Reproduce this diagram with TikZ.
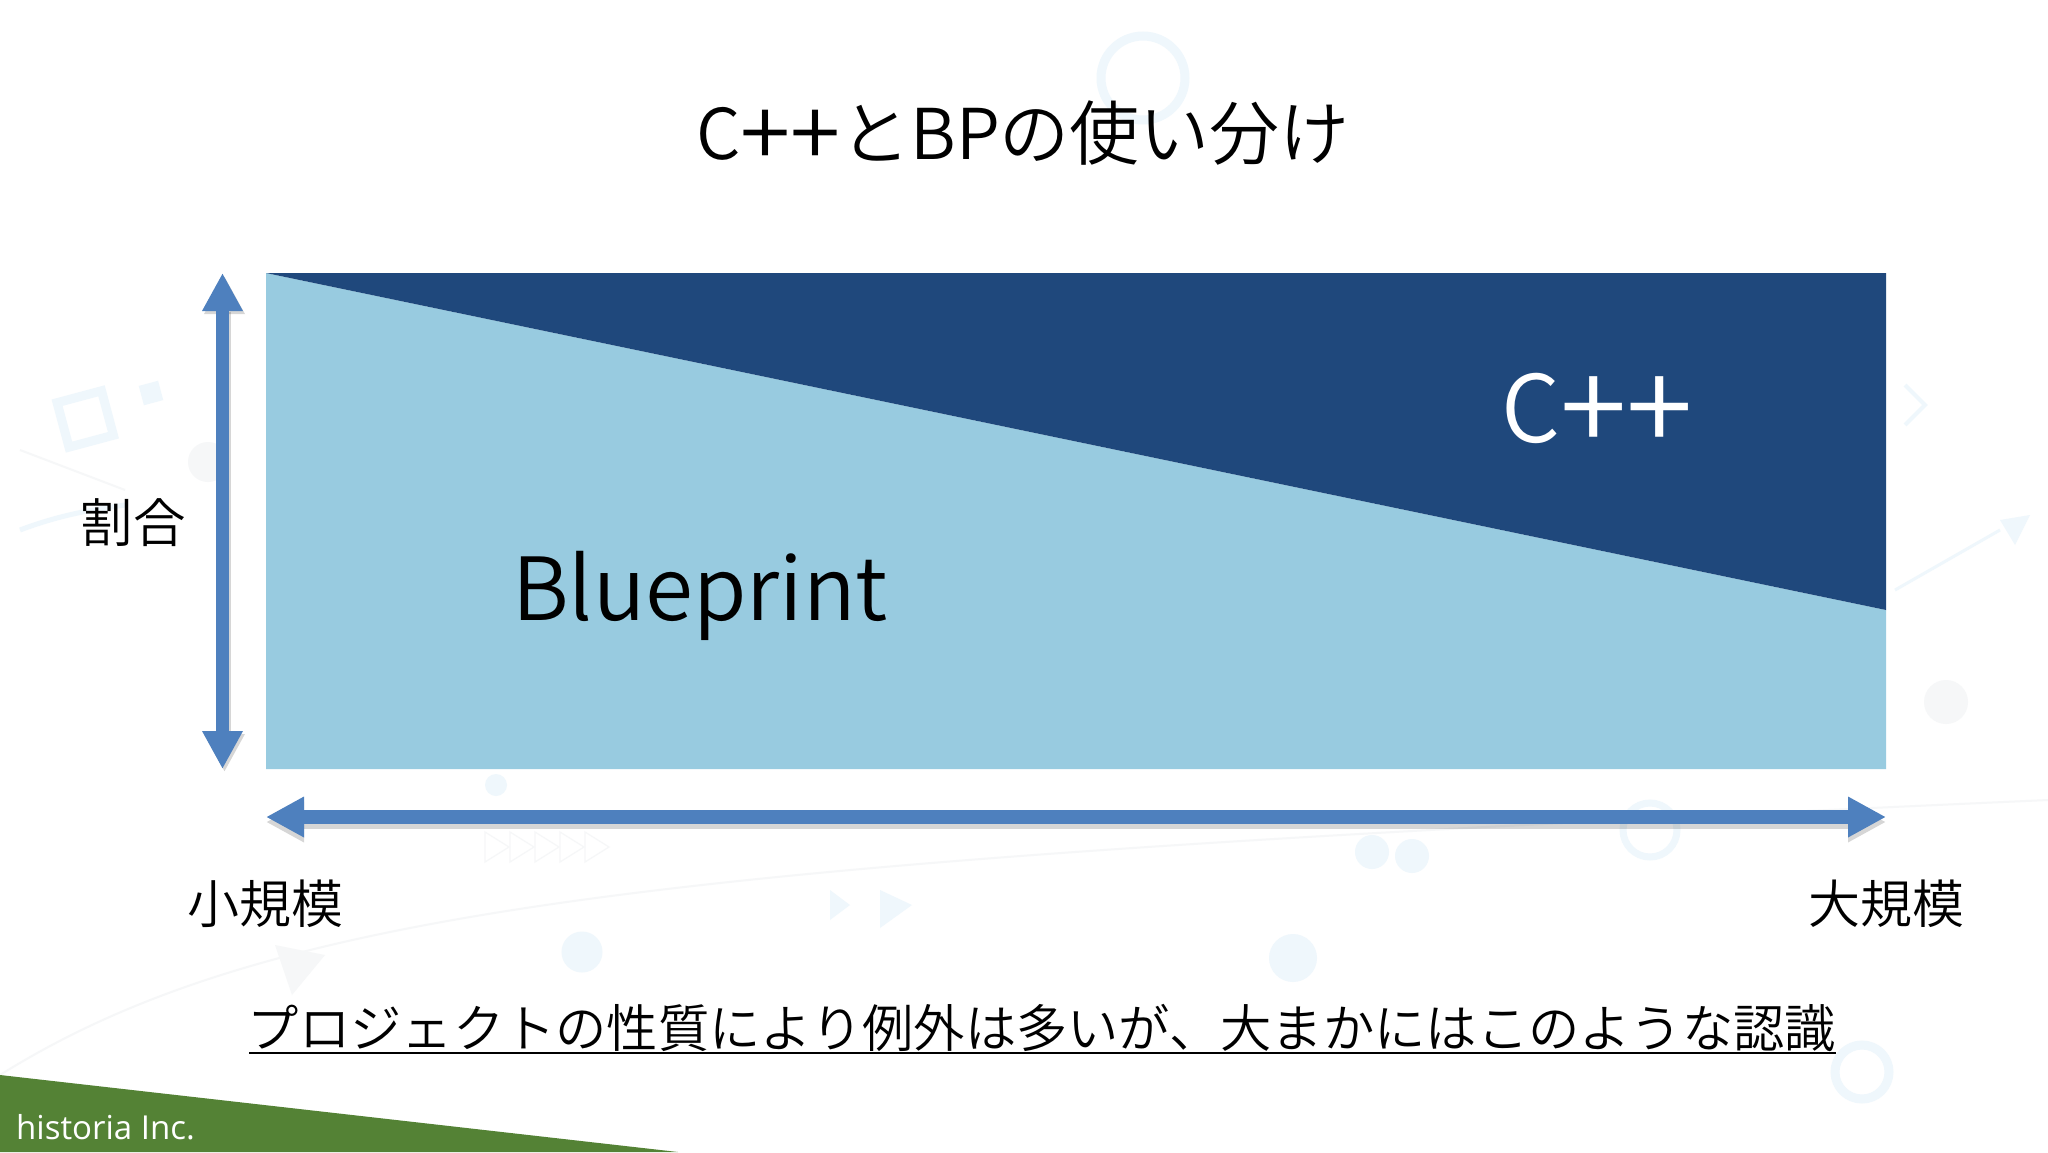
\documentclass[tikz,border=0pt]{standalone}
\usepackage{fontspec}
\usetikzlibrary{arrows.meta}
\setmainfont{Noto Sans CJK JP}[UprightFont=* DemiLight]
\newfontfamily\latinfont{Open Sans}
\newcommand{\fs}[1]{\fontsize{#1}{#1}\selectfont}
\newcommand{\wideplus}{\raisebox{-.1em}{\scalebox{1.3}{+}}}
\definecolor{darkblue}{HTML}{1F487C}
\definecolor{lightblue}{HTML}{98CBE0}
\definecolor{axisblue}{HTML}{4E80BE}
\definecolor{footgreen}{HTML}{548235}
\definecolor{decoblue}{HTML}{EFF7FC}
\definecolor{decogray}{HTML}{F6F7F8}
\tikzset{
  lbl/.style={inner sep=0pt,text=black},
  axis/.style={line width=13.5pt,draw=axisblue,{Triangle[length=38pt,width=38pt]}-{Triangle[length=38pt,width=38pt]}},
  axisshadow/.style={line width=13.5pt,draw=black,opacity=.16,{Triangle[length=38pt,width=38pt]}-{Triangle[length=38pt,width=38pt]}},
  deco/.style={draw=none,fill=decoblue},
  decoring/.style={draw=decoblue,fill=none},
  decoline/.style={draw=decogray,line width=2pt},
}
\begin{document}
\begin{tikzpicture}[x=1pt,y=-1pt]
\useasboundingbox (0,0) rectangle (2048,1152);
\fill[white] (0,0) rectangle (2048,1152);
% faint background
\draw[decoring,line width=9pt] (1143,78) circle (42);
\draw[decoring,line width=9pt,rotate around={15:(85,418)}] (62,396) rectangle (108,442);
\fill[deco,rotate around={15:(151,393)}] (141,383) rectangle (161,403);
\fill[decogray] (208,462) circle (20);
\draw[decoline] (20,450) -- (125,490);
\draw[decoline,draw=decoblue,line width=5pt] (20,530) .. controls (60,515) and (90,510) .. (125,505);
\fill[deco] (496,785) circle (11);
\fill[deco] (1372,852) circle (17);
\fill[deco] (1412,856) circle (17);
\draw[decoring,line width=7pt] (1650,830) circle (27);
\fill[decogray] (1946,702) circle (22);
\draw[decoring,line width=9pt] (1862,1072) circle (27);
\fill[deco] (1293,958) circle (24);
\draw[decoring,line width=5pt,fill=decoblue] (582,952) circle (18);
\fill[decogray] (275,945) -- (325,955) -- (292,995) -- cycle;
\fill[deco] (830,890) -- (850,905) -- (830,920) -- cycle;
\fill[deco] (880,890) -- (912,905) -- (880,928) -- cycle;
\draw[decoline] (0,1075) .. controls (280,900) and (700,860) .. (2048,800);
\draw[decoline,draw=decoblue,line width=3pt] (1895,590) -- (2000,530);
\fill[deco] (2000,520) -- (2030,515) -- (2015,545) -- cycle;
\draw[decoline,draw=decoblue,line width=4pt] (1905,385) -- (1925,405) -- (1905,425);
\foreach \cx in {485,510,535,560,585}
  \draw[decoline,line width=1.2pt] (\cx,832) -- (\cx+24,847) -- (\cx,862) -- cycle;
% chart
\coordinate (tl) at (266,273);
\coordinate (tr) at (1886,273);
\coordinate (mr) at (1886,610);
\coordinate (br) at (1886,769);
\coordinate (bl) at (266,769);
\fill[lightblue] (tl) -- (mr) -- (br) -- (bl) -- cycle;
\fill[darkblue] (tl) -- (tr) -- (mr) -- cycle;
% axes
\coordinate (vtop) at (222.5,273);
\coordinate (vbot) at (222.5,769);
\coordinate (hleft) at (266,817);
\coordinate (hright) at (1886,817);
\draw[axisshadow] ([shift={(2,3)}]vtop) -- ([shift={(2,3)}]vbot);
\draw[axisshadow] ([shift={(0,5)}]hleft) -- ([shift={(0,5)}]hright);
\draw[axis] (vtop) -- (vbot);
\draw[axis] (hleft) -- (hright);
% text
\node[lbl] (title) at (1023,134) {\fs{70}C\wideplus\wideplus とBPの使い分け};
\node[lbl,text=white] (cpp) at (1597,412) {\fs{93}C\wideplus\wideplus};
\node[lbl] (bp) at (700,596) {\fs{87}Blueprint};
\node[lbl] (ratio) at (133,523) {\fs{52.5}割合};
\node[lbl] (small) at (265,904) {\fs{52}小規模};
\node[lbl] (large) at (1886,904) {\fs{52}大規模};
\node[lbl] (note) at (1042,1028) {\fs{51.3}プロジェクトの性質により例外は多いが、大まかにはこのような認識};
\coordinate (ulstart) at (249,1053);
\coordinate (ulend) at (1836,1053);
\draw[line width=2.5pt,black] (ulstart) -- (ulend);
% footer
\fill[footgreen] (0,1075) -- (678,1152) -- (0,1152) -- cycle;
\node[lbl,text=white,anchor=west] (brand) at (16,1127) {\latinfont\fs{33}historia Inc.};
\end{tikzpicture}
\end{document}
